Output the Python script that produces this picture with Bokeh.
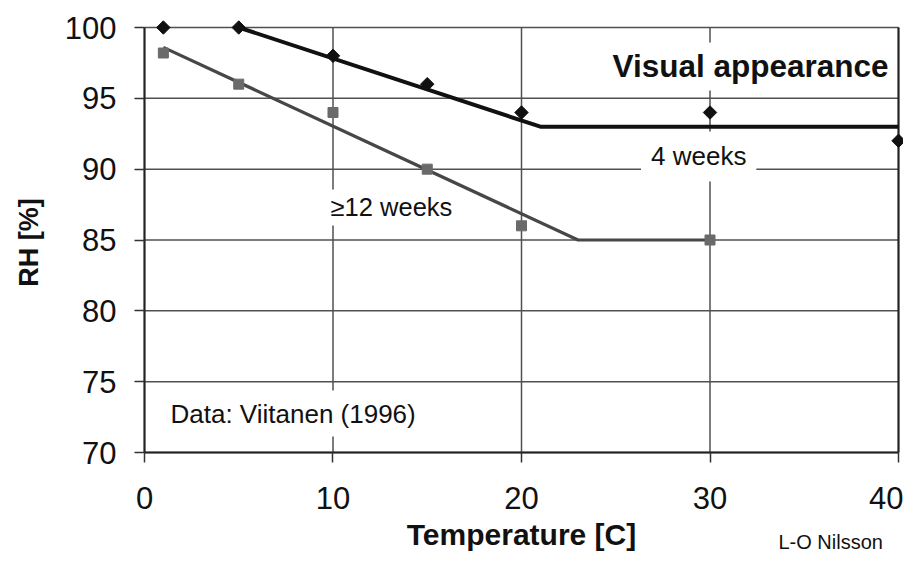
import math
from bokeh.plotting import figure
from bokeh.models import Range1d, FixedTicker, Label
from bokeh.embed import file_html
from bokeh.resources import INLINE

# ---- data ----
temp_4w = [1, 5, 10, 15, 20, 30, 40]
rh_4w = [100, 100, 98, 96, 94, 94, 92]
temp_12w = [1, 5, 10, 15, 20, 30]
rh_12w = [98.2, 96, 94, 90, 86, 85]
fit_4w_t = [5, 21, 40]
fit_4w_rh = [100, 93, 93]
fit_12w_t = [1, 23, 30]
fit_12w_rh = [98.6, 85, 85]
x_ticks = [0, 10, 20, 30, 40]
y_ticks = [70, 75, 80, 85, 90, 95, 100]

FONT = "Liberation Sans"

# The frame covers the whole canvas; axes are pinned at T=0 and RH=70 so that the
# axis titles and the credit can sit in the margin area as ordinary labels.
p = figure(frame_width=903, frame_height=553,
           min_border_left=0, min_border_right=0, min_border_top=0, min_border_bottom=0,
           x_range=Range1d(-7.639, 40.265), y_range=Range1d(62.871, 101.906),
           output_backend="svg", toolbar_location=None,
           background_fill_color="white", border_fill_color="white")
p.outline_line_color = None
p.grid.visible = False

# grid lines drawn over the data extent
xmin, xmax = x_ticks[0], x_ticks[-1]
ymin, ymax = y_ticks[0], y_ticks[-1]
p.segment(x0=[xmin] * len(y_ticks), x1=[xmax] * len(y_ticks), y0=y_ticks, y1=y_ticks,
          line_color="#505050", line_width=1.5)
p.segment(x0=x_ticks, x1=x_ticks, y0=[ymin] * len(x_ticks), y1=[ymax] * len(x_ticks),
          line_color="#505050", line_width=1.5)
p.segment(x0=[xmax], x1=[xmax], y0=[ymin], y1=[ymax], line_color="#222222", line_width=2)

# fitted lines
p.line(fit_12w_t, fit_12w_rh, line_color="#474747", line_width=3.2)
p.line(fit_4w_t, fit_4w_rh, line_color="#111111", line_width=4)

# markers
p.scatter(temp_12w, rh_12w, marker="square", size=10,
          fill_color="#6a6a6a", line_color="#6a6a6a")
p.scatter(temp_4w, rh_4w, marker="square", size=9.5, angle=math.pi / 4,
          fill_color="#111111", line_color="#111111")

# axes
for ax in (p.xaxis[0], p.yaxis[0]):
    ax.major_label_text_font = FONT
    ax.major_label_text_font_size = "31px"
    ax.major_label_text_color = "#111111"
    ax.axis_line_color = "#222222"
    ax.axis_line_width = 2
    ax.major_tick_line_color = "#333333"
    ax.major_tick_line_width = 1.5
    ax.major_tick_out = 10
    ax.major_tick_in = 0
    ax.minor_tick_line_color = None

p.xaxis.ticker = FixedTicker(ticks=x_ticks)
p.yaxis.ticker = FixedTicker(ticks=y_ticks)
p.xaxis.bounds = (xmin, xmax)
p.yaxis.bounds = (ymin, ymax)
p.xaxis.fixed_location = ymin
p.yaxis.fixed_location = xmin
p.xaxis.major_label_standoff = 24
p.yaxis.major_label_standoff = 18

# axis titles and credit
p.add_layout(Label(x=20, y=64.2, text="Temperature [C]",
                   text_align="center", text_baseline="middle", text_font=FONT,
                   text_font_style="bold", text_font_size="30px", text_color="#111111"))
p.add_layout(Label(x=-6.15, y=84.82, text="RH [%]", angle=math.pi / 2,
                   text_align="center", text_baseline="middle", text_font=FONT,
                   text_font_style="bold", text_font_size="27px", text_color="#111111"))
p.add_layout(Label(x=33.63, y=62.94, text="L-O Nilsson",
                   text_align="left", text_baseline="bottom", text_font=FONT,
                   text_font_size="20px", text_color="#111111"))

# annotations inside the plot
p.add_layout(Label(x=39.79, y=97.25, text="Visual appearance", text_align="right",
                   text_baseline="middle", text_font=FONT, text_font_style="bold",
                   text_font_size="31.5px", text_color="#111111",
                   background_fill_color="white", padding=6))
p.add_layout(Label(x=29.4, y=90.9, text="4 weeks", text_align="center",
                   text_baseline="middle", text_font=FONT, text_font_size="26px",
                   text_color="#111111", background_fill_color="white", padding=10))
p.add_layout(Label(x=9.66, y=87.3, text="\u226512 weeks", text_align="left",
                   text_baseline="middle", text_font=FONT, text_font_size="25.5px",
                   text_color="#111111", background_fill_color="white", padding=4))
p.add_layout(Label(x=0.955, y=72.75, text="Data: Viitanen (1996)", text_align="left",
                   text_baseline="middle", text_font=FONT, text_font_size="26px",
                   text_color="#111111", background_fill_color="white", padding=8))

open("out.html", "w").write(file_html(p, INLINE))
